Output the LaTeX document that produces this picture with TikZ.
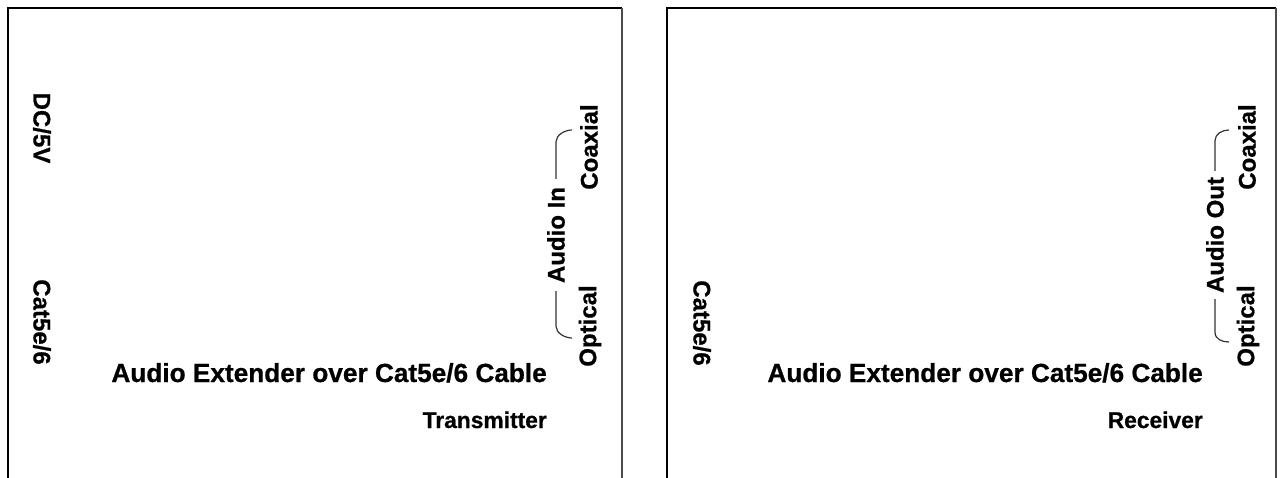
\documentclass[tikz,border=0pt]{standalone}
\usepackage{fontspec}
\setmainfont{Liberation Sans}
\newfontfamily\heavyfont[FakeBold=0.7]{Liberation Sans Bold}
\begin{document}
\begin{tikzpicture}[x=1pt,y=-1pt,
  frame/.style={line width=2.5pt,black},
  frameR/.style={line width=2.5pt,black!70},
  lab/.style={font=\heavyfont\fontsize{24}{28}\selectfont,inner sep=0pt,anchor=center},
  labdown/.style={lab,rotate=-90},
  labup/.style={lab,rotate=90},
  title/.style={font=\heavyfont\fontsize{26.2}{30}\selectfont,inner sep=0pt,anchor=base east},
  sub/.style={font=\heavyfont\fontsize{22.8}{26}\selectfont,inner sep=0pt,anchor=base east},
  br/.style={line width=1.2pt,black!80}]
\useasboundingbox (0,0) rectangle (1282,477);
% device outlines
\draw[frame] (8,480) -- (8,8) -- (622,8);
\draw[frameR] (622,8) -- (622,480);
\draw[frame] (667,480) -- (667,8) -- (1276,8);
\draw[frameR] (1276,8) -- (1276,480);
% transmitter
\node[labdown] (dc) at (42,128) {DC/5V};
\node[labdown] (catL) at (42,322) {Cat5e/6};
\node[labup] (coaxL) at (589,147) {Coaxial};
\node[labup] (optL) at (590,326) {Optical};
\node[labup,inner xsep=8pt] (ain) at (556,235) {Audio In};
\node[title] (titleL) at (547,382) {Audio Extender over Cat5e/6 Cable};
\node[sub] (tx) at (547,428) {Transmitter};
\coordinate (ctipL) at (572,130);
\coordinate (otipL) at (572,338);
\draw[br] (ain.east) -- ++(0,-37) .. controls +(0,-7) and +(-7,0) .. (ctipL);
\draw[br] (ain.west) -- ++(0,35) .. controls +(0,7) and +(-7,0) .. (otipL);
% receiver
\node[labdown] (catR) at (702,323) {Cat5e/6};
\node[labup] (coaxR) at (1247,147) {Coaxial};
\node[labup] (optR) at (1248,326) {Optical};
\node[labup,inner xsep=6pt] (aout) at (1215,235) {Audio Out};
\node[title] (titleR) at (1203,382) {Audio Extender over Cat5e/6 Cable};
\node[sub] (rx) at (1203,428) {Receiver};
\coordinate (ctipR) at (1229,130);
\coordinate (otipR) at (1229,342);
\draw[br] (aout.east) -- ++(0,-30) .. controls +(0,-7) and +(-7,0) .. (ctipR);
\draw[br] (aout.west) -- ++(0,33) .. controls +(0,7) and +(-7,0) .. (otipR);
\end{tikzpicture}
\end{document}
